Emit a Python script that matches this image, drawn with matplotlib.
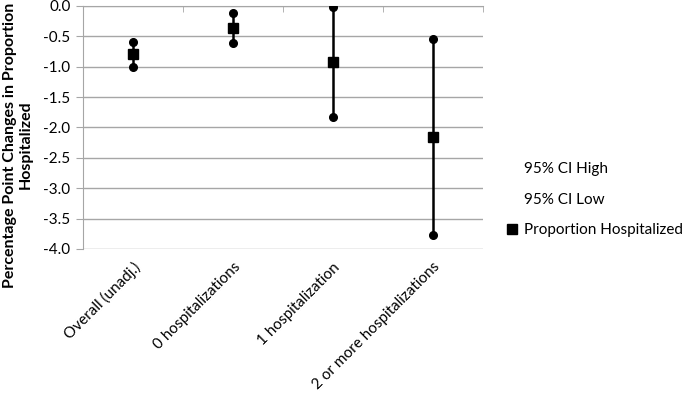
import matplotlib.pyplot as plt
from matplotlib.lines import Line2D
import numpy as np

plt.rcParams['font.family'] = ['Lato', 'DejaVu Sans']

categories = ['Overall (unadj.)', '0 hospitalizations', '1 hospitalization',
              '2 or more hospitalizations']
ci_high = [-0.59, -0.12, -0.02, -0.55]
ci_low = [-1.00, -0.61, -1.83, -3.77]
proportion = [-0.79, -0.37, -0.93, -2.15]

x = np.arange(len(categories))

fig = plt.figure(figsize=(6.85, 3.97), dpi=100)
ax = fig.add_axes([0.121, 0.373, 0.584, 0.612])

grid_col = '#a6a6a6'
for yv in np.arange(-4.0, 0.01, 0.5):
    ax.axhline(yv, color=grid_col, lw=1, zorder=0)

ax.vlines(x, ci_low, ci_high, color='black', lw=1.8, zorder=2)
ax.plot(x, ci_high, 'o', color='black', ms=5.5, zorder=3)
ax.plot(x, ci_low, 'o', color='black', ms=5.5, zorder=3)
ax.plot(x, proportion, 's', color='black', ms=7, zorder=4)

ax.set_xlim(-0.5, 3.5)
ax.set_ylim(-4.0, 0.0)
ax.set_yticks(np.arange(-4.0, 0.01, 0.5))
ax.set_yticklabels(['%.1f' % v for v in np.arange(-4.0, 0.01, 0.5)], fontsize=11)

ax.set_xticks(x)
ax.set_xticklabels(categories, rotation=45, ha='right', rotation_mode='anchor',
                   fontsize=11)
ax.tick_params(axis='x', which='major', length=0, pad=8)
ax.set_xticks(np.arange(0.5, 4.0, 1.0), minor=True)
ax.tick_params(axis='x', which='minor', bottom=False, top=True, direction='in',
               length=4, color=grid_col)
ax.tick_params(axis='y', length=5, color=grid_col, pad=4)

for s in ['right', 'bottom']:
    ax.spines[s].set_visible(False)
ax.spines['left'].set_color(grid_col)
ax.spines['top'].set_color(grid_col)

fig.text(18 / 685, 1 - 145 / 397,
         'Percentage Point Changes in Proportion\nHospitalized',
         rotation=90, ha='center', va='center', fontsize=11.5,
         fontweight='bold', linespacing=1.15)

handles = [Line2D([], [], ls='none', marker=''),
           Line2D([], [], ls='none', marker=''),
           Line2D([], [], ls='none', marker='s', color='black', ms=6.5)]
labels = ['95% CI High', '95% CI Low', 'Proportion Hospitalized']
fig.legend(handles, labels, loc='center left', bbox_to_anchor=(0.73, 0.497),
           frameon=False, fontsize=11, handlelength=0.8, handletextpad=0.4,
           labelspacing=1.1, borderaxespad=0)

fig.savefig('out.png', dpi=100)
